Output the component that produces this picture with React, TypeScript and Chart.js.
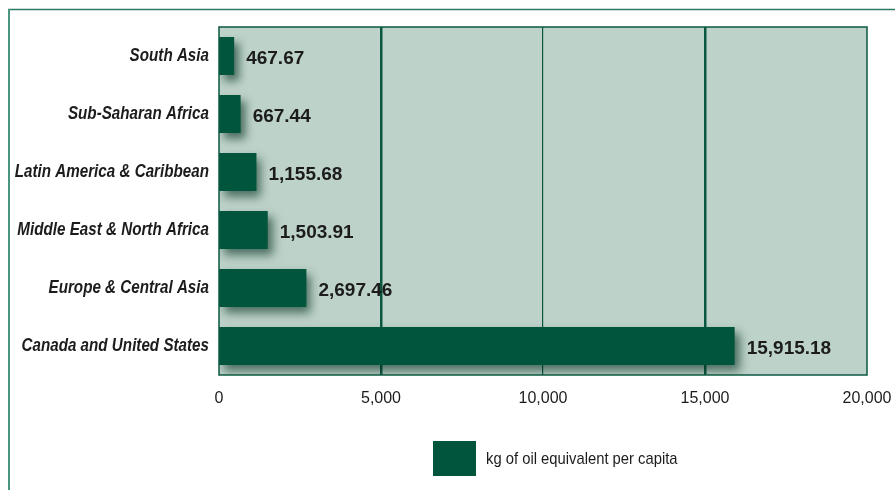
import React, { useEffect, useRef } from "react";
import { Chart, registerables } from "chart.js";

Chart.register(...registerables);

const categories = [
  "South Asia",
  "Sub-Saharan Africa",
  "Latin America & Caribbean",
  "Middle East & North Africa",
  "Europe & Central Asia",
  "Canada and United States",
];
const values = [467.67, 667.44, 1155.68, 1503.91, 2697.46, 15915.18];
const xTickValues = [0, 5000, 10000, 15000, 20000];
const seriesLabel = "kg of oil equivalent per capita";

const BAR = "#01553c";
const PLOT_BG = "#bdd2c9";
const GRID = "#0b5840";
const TEXT = "#1c1c1c";
const SANS = '"Liberation Sans", "DejaVu Sans", sans-serif';

const fmt = (v: number, d: number) =>
  v.toLocaleString("en-US", { minimumFractionDigits: d, maximumFractionDigits: d });

// draw horizontally condensed text (no condensed font is installed)
function condensedText(ctx: any, text: string, x: number, y: number, sx: number, align: "left" | "right") {
  ctx.save();
  ctx.translate(x, y);
  ctx.scale(sx, 1);
  ctx.textAlign = align;
  ctx.fillText(text, 0, 0);
  ctx.restore();
}

const deco = {
  id: "deco",
  beforeDraw(chart: any) {
    const { ctx, chartArea: a, width, height } = chart;
    ctx.save();
    ctx.fillStyle = "#ffffff";
    ctx.fillRect(0, 0, width, height);
    // outer frame
    ctx.strokeStyle = "#2f7a64";
    ctx.lineWidth = 1.5;
    ctx.beginPath();
    ctx.moveTo(8, 9.5);
    ctx.lineTo(width, 9.5);
    ctx.stroke();
    ctx.strokeStyle = "#4a9580";
    ctx.lineWidth = 2;
    ctx.beginPath();
    ctx.moveTo(9, 9);
    ctx.lineTo(9, height);
    ctx.stroke();
    // plot background
    ctx.fillStyle = PLOT_BG;
    ctx.fillRect(a.left, a.top, a.right - a.left, a.bottom - a.top);
    ctx.restore();
  },
  beforeDatasetDraw(chart: any) {
    const ctx = chart.ctx;
    ctx.save();
    ctx.shadowColor = "rgba(0, 45, 28, 0.6)";
    ctx.shadowBlur = 9;
    ctx.shadowOffsetX = 5;
    ctx.shadowOffsetY = 6;
  },
  afterDatasetDraw(chart: any) {
    chart.ctx.restore();
  },
  afterDatasetsDraw(chart: any) {
    const { ctx, chartArea: a } = chart;
    ctx.save();
    // plot border
    ctx.strokeStyle = GRID;
    ctx.lineWidth = 1.5;
    ctx.strokeRect(a.left, a.top, a.right - a.left, a.bottom - a.top);
    // value labels
    const meta = chart.getDatasetMeta(0);
    ctx.fillStyle = TEXT;
    ctx.font = `bold 19px ${SANS}`;
    ctx.textAlign = "left";
    ctx.textBaseline = "middle";
    meta.data.forEach((bar: any, i: number) => {
      ctx.fillText(fmt(values[i], 2), bar.x + 12, bar.y + 3);
    });
    // category labels
    const yScale = chart.scales.y;
    ctx.font = `italic bold 19px ${SANS}`;
    categories.forEach((c, i) => {
      const y = yScale.getPixelForValue(i);
      condensedText(ctx, c, a.left - 10, y, 0.8, "right");
    });
    ctx.restore();
  },
  afterDraw(chart: any) {
    const ctx = chart.ctx;
    ctx.save();
    ctx.fillStyle = BAR;
    ctx.fillRect(433, 441, 43, 35);
    ctx.fillStyle = TEXT;
    ctx.font = `17px ${SANS}`;
    ctx.textBaseline = "middle";
    condensedText(ctx, seriesLabel, 486, 459, 0.87, "left");
    ctx.restore();
  },
};

export default function App() {
  const ref = useRef<HTMLCanvasElement | null>(null);

  useEffect(() => {
    if (!ref.current) return;
    const chart = new Chart(ref.current, {
      type: "bar",
      data: {
        labels: categories,
        datasets: [
          {
            label: seriesLabel,
            data: values,
            backgroundColor: BAR,
            borderWidth: 0,
            categoryPercentage: 1,
            barPercentage: 0.655,
          },
        ],
      },
      options: {
        indexAxis: "y",
        responsive: false,
        animation: false,
        layout: { padding: { top: 27, right: 28, left: 0, bottom: 0 } },
        plugins: {
          legend: { display: false },
          tooltip: { enabled: false },
        },
        scales: {
          x: {
            min: 0,
            max: 20000,
            afterBuildTicks: (scale: any) => {
              scale.ticks = xTickValues.map((v) => ({ value: v }));
            },
            afterFit: (scale: any) => {
              scale.height = 115;
              scale.paddingLeft = 0;
              scale.paddingRight = 0;
            },
            border: { display: false },
            grid: {
              color: GRID,
              lineWidth: (c: any) => (c.index === 1 || c.index === 3 ? 2.5 : c.index === 2 ? 1.2 : 0),
              drawTicks: false,
            },
            ticks: {
              padding: 14,
              color: TEXT,
              font: { family: SANS, size: 16 },
              callback: (v: any) => Number(v).toLocaleString("en-US"),
            },
          },
          y: {
            afterFit: (scale: any) => {
              scale.width = 219;
              scale.paddingTop = 0;
              scale.paddingBottom = 0;
            },
            border: { display: false },
            grid: { display: false, drawTicks: false },
            ticks: { display: false },
          },
        },
      },
      plugins: [deco],
    });
    return () => chart.destroy();
  }, []);

  return (
    <div style={{ position: "absolute", left: 0, top: 0, width: 895, height: 490 }}>
      <canvas ref={ref} width={895} height={490} style={{ display: "block" }} />
    </div>
  );
}
